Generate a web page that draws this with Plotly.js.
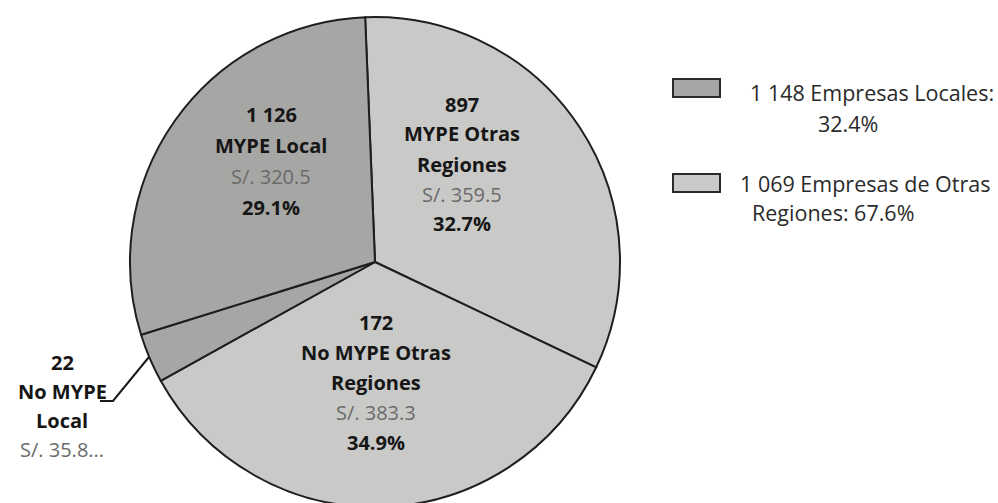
<!DOCTYPE html>
<html><head><meta charset="utf-8">
<script src="https://cdn.plot.ly/plotly-3.0.1.min.js"></script>
<style>html,body{margin:0;padding:0;background:#fff;overflow:hidden;width:998px;height:503px}#c{width:998px;height:523px}</style>
</head><body><div id="c"></div>
<script>
// ---- data ----
const sliceNames = ['MYPE Otras<br>Regiones', 'No MYPE Otras<br>Regiones', 'No MYPE<br>Local', 'MYPE Local'];
const sliceCounts = ['897', '172', '22', '1 126'];
const sliceAmounts = [359.5, 383.3, 35.8, 320.5];
const amountLabels = ['S/. 359.5', 'S/. 383.3', 'S/. 35.8...', 'S/. 320.5'];
const slicePercents = ['32.7%', '34.9%', '', '29.1%'];
const sliceColors = ['#c9c9c7', '#c9c9c7', '#a6a6a4', '#a6a6a4'];
const legendLines = [['1 148 Empresas Locales:', '32.4%'], ['1 069 Empresas de Otras', 'Regiones: 67.6%']];
const legendColors = ['#a6a6a4', '#c9c9c7'];

const W = 998, H = 523;
const px = x => x / W, py = y => 1 - y / H;   // screen px -> paper
const cx = 375, cy = 262, R = 245;

// label anchor positions (center of first line), screen px
const labelPos = [[462, 104], [376, 322], [62, 362], [271, 114]];
const lineGap = [30, 30, 29, 31];

const annotations = [];
const FS = 20;
const fontB = {family: 'Open Sans', size: FS, color: '#161616'};
sliceNames.forEach((nm, i) => {
  const lines = [];
  lines.push({t: '<b>' + sliceCounts[i] + '</b>', f: fontB});
  nm.split('<br>').forEach(s => lines.push({t: '<b>' + s + '</b>', f: fontB}));
  lines.push({t: amountLabels[i], f: {family: 'Open Sans', size: FS, color: '#6a6a6a'}});
  if (slicePercents[i]) lines.push({t: '<b>' + slicePercents[i] + '</b>', f: fontB});
  lines.forEach((l, k) => {
    annotations.push({xref: 'paper', yref: 'paper', x: px(labelPos[i][0]), y: py(labelPos[i][1] + k * lineGap[i]),
      text: l.t, showarrow: false, font: l.f, xanchor: 'center', yanchor: 'middle'});
  });
});
const legY = [[92, 123], [183, 213]];
const legX = [[872, 848], [865, 833]];
const shapes = [];
legendLines.forEach((ls, i) => {
  ls.forEach((t, k) => annotations.push({xref: 'paper', yref: 'paper', x: px(legX[i][k]), y: py(legY[i][k]),
    text: t, showarrow: false, xanchor: 'center', yanchor: 'middle', font: {family: 'Open Sans', size: 21.5, color: '#2a2a2a'}}));
  const y0 = i === 0 ? 79 : 174;
  shapes.push({type: 'rect', xref: 'paper', yref: 'paper', x0: px(673), x1: px(720), y0: py(y0), y1: py(y0 + 18),
    fillcolor: legendColors[i], line: {color: '#2a2a2a', width: 2}});
});
// leader line for small slice
shapes.push({type: 'path', xref: 'paper', yref: 'paper',
  path: `M ${px(149)} ${py(357)} L ${px(113)} ${py(401)} L ${px(100)} ${py(401)}`, line: {color: '#1a1a1a', width: 2}});

const trace = {
  type: 'pie', values: sliceAmounts, labels: sliceNames, sort: false, direction: 'clockwise', rotation: -2.3,
  marker: {colors: sliceColors, line: {color: '#1e1e1e', width: 2}},
  textinfo: 'none', hoverinfo: 'none', showlegend: false,
  domain: {x: [(cx - R) / W, (cx + R) / W], y: [1 - (cy + R) / H, 1 - (cy - R) / H]}
};
Plotly.newPlot('c', [trace], {
  width: W, height: H, margin: {l: 0, r: 0, t: 0, b: 0}, paper_bgcolor: '#fff', showlegend: false,
  annotations, shapes
}, {staticPlot: true});
</script></body></html>
